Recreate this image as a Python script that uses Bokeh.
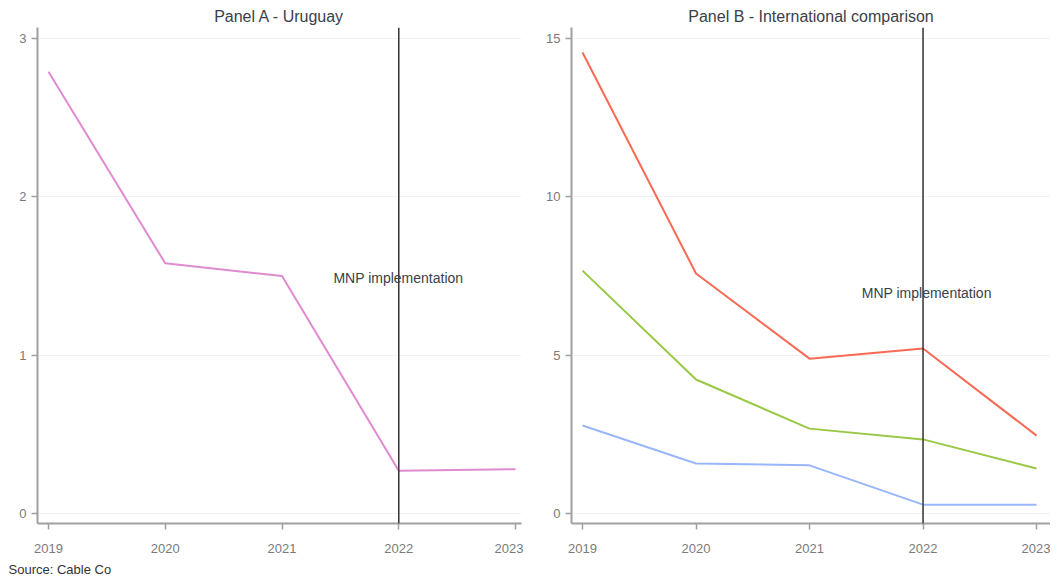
from bokeh.plotting import figure
from bokeh.layouts import row
from bokeh.models import Span, Label, Title, FixedTicker, Range1d
from bokeh.embed import file_html
from bokeh.resources import INLINE

years = [2019, 2020, 2021, 2022, 2023]
uruguay = [2.79, 1.58, 1.50, 0.27, 0.28]
intl_red = [14.56, 7.58, 4.89, 5.21, 2.46]
intl_green = [7.67, 4.23, 2.68, 2.34, 1.42]
intl_blue = [2.78, 1.58, 1.52, 0.28, 0.28]
mnp_year = 2022
mnp_text = "MNP implementation"

FONT = "Liberation Sans"
AXIS_COLOR = "#a0a0a0"
TICK_LABEL = "#7a7a7a"


def style(p, yticks):
    p.title.text_font = FONT
    p.title.text_font_size = "16px"
    p.title.text_font_style = "normal"
    p.title.text_color = "#3a3f4a"
    p.title.align = "center"
    p.title.standoff = 6
    p.outline_line_color = None
    p.xgrid.grid_line_color = None
    p.ygrid.grid_line_color = "#eef3f3"
    p.ygrid.grid_line_width = 1
    for ax in (p.xaxis[0], p.yaxis[0]):
        ax.axis_line_color = AXIS_COLOR
        ax.axis_line_width = 2
        ax.major_tick_line_color = AXIS_COLOR
        ax.major_tick_line_width = 1.5
        ax.major_tick_out = 6
        ax.major_tick_in = 0
        ax.minor_tick_line_color = None
        ax.major_label_text_font = FONT
        ax.major_label_text_font_size = "13px"
        ax.major_label_text_color = TICK_LABEL
    p.xaxis.ticker = FixedTicker(ticks=years)
    p.yaxis.ticker = FixedTicker(ticks=yticks)
    p.xaxis.major_label_standoff = 14
    p.yaxis.major_label_standoff = 5


pA = figure(frame_width=484, frame_height=496, output_backend="svg",
            toolbar_location=None, title="Panel A - Uruguay",
            x_range=Range1d(2018.906, 2023.051), y_range=Range1d(-0.063, 3.069),
            min_border_left=37, min_border_right=2, min_border_top=27, min_border_bottom=0)
style(pA, [0, 1, 2, 3])
pA.line(years, uruguay, line_color="#e08ad0", line_width=2)
pA.add_layout(Span(location=mnp_year, dimension="height", line_color="#333333", line_width=1.5))
pA.add_layout(Label(x=2021.44, y=1.49, text=mnp_text, text_font=FONT, text_font_size="14px",
                    text_color="#3a3f4a", text_baseline="middle"))
src = Title(text="Source: Cable Co", align="left", text_font=FONT, text_font_size="13px",
            text_font_style="normal", text_color="#333333", offset=-29, standoff=8)
pA.add_layout(src, "below")

pB = figure(frame_width=479, frame_height=496, output_backend="svg",
            toolbar_location=None, title="Panel B - International comparison",
            x_range=Range1d(2018.903, 2023.123), y_range=Range1d(-0.316, 15.347),
            min_border_left=48, min_border_right=0, min_border_top=27, min_border_bottom=0)
style(pB, [0, 5, 10, 15])
pB.line(years, intl_red, line_color="#f86a55", line_width=2)
pB.line(years, intl_green, line_color="#98c844", line_width=2)
pB.line(years, intl_blue, line_color="#9ab6fa", line_width=2)
pB.add_layout(Span(location=mnp_year, dimension="height", line_color="#333333", line_width=1.5))
pB.add_layout(Label(x=2021.46, y=6.95, text=mnp_text, text_font=FONT, text_font_size="14px",
                    text_color="#3a3f4a", text_baseline="middle"))

layout = row(pA, pB, spacing=0)
open("out.html", "w").write(file_html(layout, INLINE))
